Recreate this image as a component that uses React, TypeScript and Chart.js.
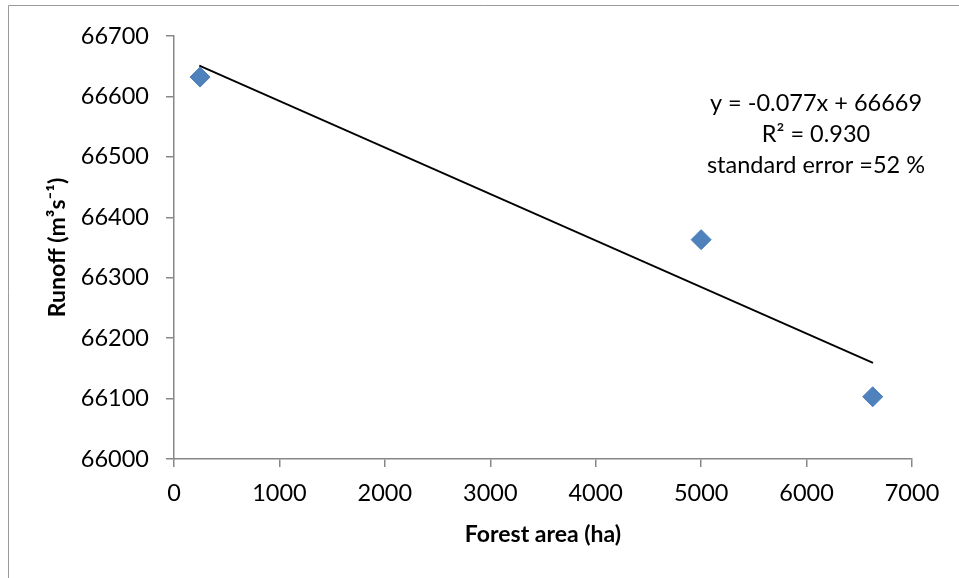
import React, { useEffect, useRef } from "react";
import { Chart, registerables } from "chart.js";

Chart.register(...registerables);

const forestArea = [247, 5000, 6627];
const runoff = [66632, 66363, 66103];
const trendX = [240, 6630];
const trendY = [66651, 66159];
const xTicks = { min: 0, max: 7000, step: 1000 };
const yTicks = { min: 66000, max: 66700, step: 100 };
const annotationLines = ["y = -0.077x + 66669", "R\u00B2 = 0.930", "standard error =52 %"];
const xTitle = "Forest area (ha)";
const yTitle = "Runoff (m\u00B3s\u207B\u00B9)";

const FONT = "Lato, 'Open Sans', 'Liberation Sans', sans-serif";
const AXIS_COLOR = "#878787";

const framePlugin = {
  id: "frame",
  beforeDraw(chart: any) {
    const ctx = chart.ctx;
    ctx.save();
    ctx.strokeStyle = "#9a9a9a";
    ctx.lineWidth = 1;
    ctx.beginPath();
    ctx.moveTo(8.5, chart.height);
    ctx.lineTo(8.5, 5.5);
    ctx.lineTo(chart.width, 5.5);
    ctx.stroke();
    ctx.restore();
  },
};

const annotationPlugin = {
  id: "eqnote",
  afterDraw(chart: any) {
    const ctx = chart.ctx;
    const ca = chart.chartArea;
    const cx = ca.right - 96;
    const y0 = ca.top + 67;
    ctx.save();
    ctx.fillStyle = "#000";
    ctx.font = `23.5px ${FONT}`;
    ctx.textAlign = "center";
    ctx.textBaseline = "middle";
    annotationLines.forEach((t, i) => ctx.fillText(t, cx, y0 + i * 31));
    ctx.restore();
  },
};

export default function App() {
  const ref = useRef<HTMLCanvasElement>(null);
  useEffect(() => {
    if (!ref.current) return;
    const chart = new Chart(ref.current, {
      type: "scatter",
      data: {
        datasets: [
          {
            label: "Runoff",
            data: forestArea.map((x, i) => ({ x, y: runoff[i] })),
            pointStyle: "rectRot",
            pointRadius: 10,
            pointBackgroundColor: "#4F81BD",
            pointBorderColor: "#4A7EBB",
            pointBorderWidth: 1,
            showLine: false,
          },
          {
            label: "Trend",
            data: trendX.map((x, i) => ({ x, y: trendY[i] })),
            showLine: true,
            borderColor: "#000",
            borderWidth: 1.75,
            pointRadius: 0,
            fill: false,
          },
        ],
      },
      options: {
        animation: false,
        responsive: false,
        devicePixelRatio: 1,
        layout: { padding: { top: 36, right: 47, bottom: 0, left: 0 } },
        plugins: { legend: { display: false }, tooltip: { enabled: false } },
        scales: {
          x: {
            type: "linear",
            min: xTicks.min,
            max: xTicks.max,
            afterFit: (s: any) => {
              s.height = 119;
            },
            ticks: {
              stepSize: xTicks.step,
              color: "#000",
              font: { family: FONT, size: 23.5 },
              padding: 12,
              maxRotation: 0,
              callback: (v: any) => String(v),
            },
            grid: {
              display: true,
              drawOnChartArea: false,
              drawTicks: true,
              tickLength: 8,
              color: AXIS_COLOR,
              lineWidth: 1.5,
            },
            border: { display: true, color: AXIS_COLOR, width: 1.5 },
            title: {
              display: true,
              text: xTitle,
              color: "#000",
              font: { family: FONT, size: 23, weight: "bold" },
              padding: { top: 0, bottom: 30 },
            },
          },
          y: {
            type: "linear",
            min: yTicks.min,
            max: yTicks.max,
            afterFit: (s: any) => {
              s.width = 174;
            },
            ticks: {
              stepSize: yTicks.step,
              color: "#000",
              font: { family: FONT, size: 23.5 },
              padding: 17,
              callback: (v: any) => String(v),
            },
            grid: {
              display: true,
              drawOnChartArea: false,
              drawTicks: true,
              tickLength: 8,
              color: AXIS_COLOR,
              lineWidth: 1.5,
            },
            border: { display: true, color: AXIS_COLOR, width: 1.5 },
            title: {
              display: true,
              text: yTitle,
              color: "#000",
              font: { family: FONT, size: 23, weight: "bold" },
              padding: { top: 44, bottom: 0 },
            },
          },
        },
      },
      plugins: [framePlugin, annotationPlugin],
    });
    return () => chart.destroy();
  }, []);
  return (
    <div style={{ position: "absolute", left: 0, top: 0, width: 959, height: 578, background: "#fff" }}>
      <canvas ref={ref} width={959} height={578} style={{ display: "block" }} />
    </div>
  );
}
